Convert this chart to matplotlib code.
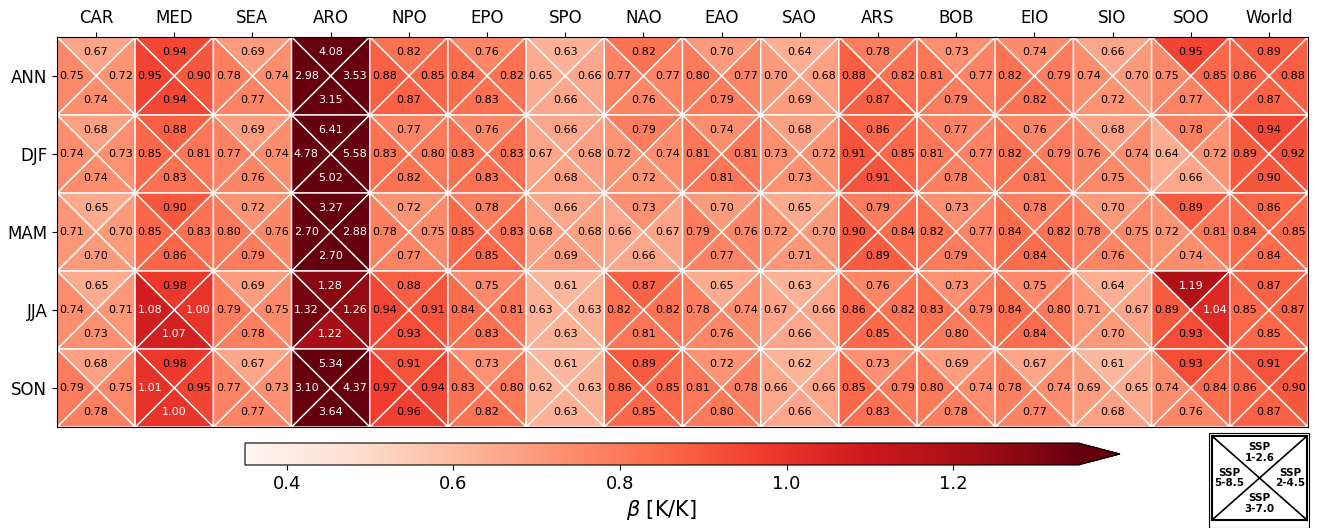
import numpy as np
import matplotlib
matplotlib.use('Agg')
import matplotlib.pyplot as plt
from matplotlib.patches import Polygon, Rectangle
from matplotlib.colors import Normalize

regions = ['CAR', 'MED', 'SEA', 'ARO', 'NPO', 'EPO', 'SPO', 'NAO',
           'EAO', 'SAO', 'ARS', 'BOB', 'EIO', 'SIO', 'SOO', 'World']
seasons = ['ANN', 'DJF', 'MAM', 'JJA', 'SON']

# top triangle
ssp126 = [
    [0.67, 0.94, 0.69, 4.08, 0.82, 0.76, 0.63, 0.82, 0.70, 0.64, 0.78, 0.73, 0.74, 0.66, 0.95, 0.89],
    [0.68, 0.88, 0.69, 6.41, 0.77, 0.76, 0.66, 0.79, 0.74, 0.68, 0.86, 0.77, 0.76, 0.68, 0.78, 0.94],
    [0.65, 0.90, 0.72, 3.27, 0.72, 0.78, 0.66, 0.73, 0.70, 0.65, 0.79, 0.73, 0.78, 0.70, 0.89, 0.86],
    [0.65, 0.98, 0.69, 1.28, 0.88, 0.75, 0.61, 0.87, 0.65, 0.63, 0.76, 0.73, 0.75, 0.64, 1.19, 0.87],
    [0.68, 0.98, 0.67, 5.34, 0.91, 0.73, 0.61, 0.89, 0.72, 0.62, 0.73, 0.69, 0.67, 0.61, 0.93, 0.91],
]
# right triangle
ssp245 = [
    [0.72, 0.90, 0.74, 3.53, 0.85, 0.82, 0.66, 0.77, 0.77, 0.68, 0.82, 0.77, 0.79, 0.70, 0.85, 0.88],
    [0.73, 0.81, 0.74, 5.58, 0.80, 0.83, 0.68, 0.74, 0.81, 0.72, 0.85, 0.77, 0.79, 0.74, 0.72, 0.92],
    [0.70, 0.83, 0.76, 2.88, 0.75, 0.83, 0.68, 0.67, 0.76, 0.70, 0.84, 0.77, 0.82, 0.75, 0.81, 0.85],
    [0.71, 1.00, 0.75, 1.26, 0.91, 0.81, 0.63, 0.82, 0.74, 0.66, 0.82, 0.79, 0.80, 0.67, 1.04, 0.87],
    [0.75, 0.95, 0.73, 4.37, 0.94, 0.80, 0.63, 0.85, 0.78, 0.66, 0.79, 0.74, 0.74, 0.65, 0.84, 0.90],
]
# bottom triangle
ssp370 = [
    [0.74, 0.94, 0.77, 3.15, 0.87, 0.83, 0.66, 0.76, 0.79, 0.69, 0.87, 0.79, 0.82, 0.72, 0.77, 0.87],
    [0.74, 0.83, 0.76, 5.02, 0.82, 0.83, 0.68, 0.72, 0.81, 0.73, 0.91, 0.78, 0.81, 0.75, 0.66, 0.90],
    [0.70, 0.86, 0.79, 2.70, 0.77, 0.85, 0.69, 0.66, 0.77, 0.71, 0.89, 0.79, 0.84, 0.76, 0.74, 0.84],
    [0.73, 1.07, 0.78, 1.22, 0.93, 0.83, 0.63, 0.81, 0.76, 0.66, 0.85, 0.80, 0.84, 0.70, 0.93, 0.85],
    [0.78, 1.00, 0.77, 3.64, 0.96, 0.82, 0.63, 0.85, 0.80, 0.66, 0.83, 0.78, 0.77, 0.68, 0.76, 0.87],
]
# left triangle
ssp585 = [
    [0.75, 0.95, 0.78, 2.98, 0.88, 0.84, 0.65, 0.77, 0.80, 0.70, 0.88, 0.81, 0.82, 0.74, 0.75, 0.86],
    [0.74, 0.85, 0.77, 4.78, 0.83, 0.83, 0.67, 0.72, 0.81, 0.73, 0.91, 0.81, 0.82, 0.76, 0.64, 0.89],
    [0.71, 0.85, 0.80, 2.70, 0.78, 0.85, 0.68, 0.66, 0.79, 0.72, 0.90, 0.82, 0.84, 0.78, 0.72, 0.84],
    [0.74, 1.08, 0.79, 1.32, 0.94, 0.84, 0.63, 0.82, 0.78, 0.67, 0.86, 0.83, 0.84, 0.71, 0.89, 0.85],
    [0.79, 1.01, 0.77, 3.10, 0.97, 0.83, 0.62, 0.86, 0.81, 0.66, 0.85, 0.80, 0.78, 0.69, 0.74, 0.86],
]

cmap = plt.get_cmap('Reds')
norm = Normalize(vmin=0.35, vmax=1.35)

fig = plt.figure(figsize=(13.17, 5.28), dpi=100)
ax = fig.add_axes([57 / 1317, 1 - 427 / 528, 1251 / 1317, 390 / 528])

off = 0.31
for i in range(len(seasons)):
    for j in range(len(regions)):
        x0, x1, y0, y1 = j, j + 1, i, i + 1
        c = (j + 0.5, i + 0.5)
        tris = [
            ([(x0, y0), (x1, y0), c], ssp126[i][j], (0, -off)),
            ([(x1, y0), (x1, y1), c], ssp245[i][j], (off, 0)),
            ([(x0, y1), (x1, y1), c], ssp370[i][j], (0, off)),
            ([(x0, y0), (x0, y1), c], ssp585[i][j], (-off, 0)),
        ]
        for verts, v, (dx, dy) in tris:
            ax.add_patch(Polygon(verts, closed=True, facecolor=cmap(norm(v)),
                                 edgecolor='white', lw=1.0))
            ax.text(c[0] + dx, c[1] + dy, '%.2f' % v, ha='center', va='center',
                    fontsize=8, color='white' if v >= 1.0 else 'black')

ax.set_xlim(0, len(regions))
ax.set_ylim(len(seasons), 0)
ax.set_xticks(np.arange(len(regions)) + 0.5)
ax.set_xticklabels(regions, fontsize=12)
ax.set_yticks(np.arange(len(seasons)) + 0.5)
ax.set_yticklabels(seasons, fontsize=12)
ax.xaxis.tick_top()

# colorbar (extension triangle sits inside the axes, 5% extra length)
cax = fig.add_axes([245 / 1317, 1 - 465 / 528, 875 / 1317, 22 / 528])
sm = plt.cm.ScalarMappable(cmap=cmap, norm=norm)
cb = fig.colorbar(sm, cax=cax, orientation='horizontal', extend='max')
cb.set_ticks([0.4, 0.6, 0.8, 1.0, 1.2])
cb.ax.tick_params(labelsize=13)
cb.set_label(r'$\beta$ [K/K]', fontsize=15)

# scenario key
fig.patches.append(Rectangle((1209 / 1317, 0), 100 / 1317, 95 / 528,
                             transform=fig.transFigure, fill=False,
                             edgecolor='black', lw=0.8))
kax = fig.add_axes([1212 / 1317, 8 / 528, 95 / 1317, 84 / 528])
kax.set_xlim(0, 1)
kax.set_ylim(0, 1)
kax.plot([0, 1], [0, 1], color='black', lw=1.2)
kax.plot([0, 1], [1, 0], color='black', lw=1.2)
for s in kax.spines.values():
    s.set_linewidth(1.5)
kax.set_xticks([])
kax.set_yticks([])
kw = dict(ha='center', va='center', fontsize=7.5, fontweight='bold', linespacing=1.1)
kax.text(0.5, 0.8, 'SSP\n1-2.6', **kw)
kax.text(0.82, 0.5, 'SSP\n2-4.5', **kw)
kax.text(0.5, 0.2, 'SSP\n3-7.0', **kw)
kax.text(0.18, 0.5, 'SSP\n5-8.5', **kw)

fig.savefig('out.png', dpi=100)
